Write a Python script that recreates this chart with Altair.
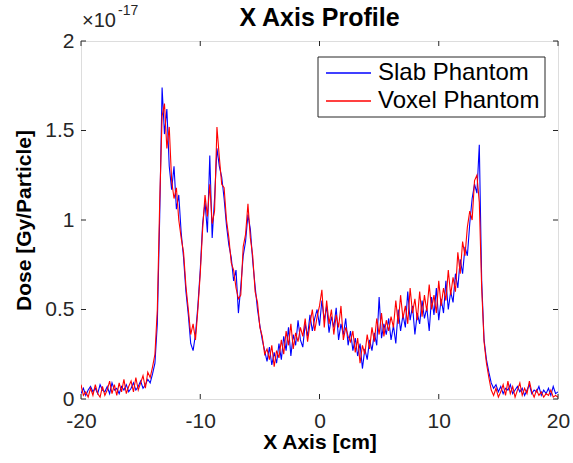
import altair as alt
import numpy as np
import pandas as pd

# Depth positions along the X axis (cm), 0.2 cm bins
x_cm = np.round(np.linspace(-20, 20, 201), 1)

# Dose per particle in units of 1e-17 Gy, one row of ten bins per line
slab_dose = [
    0.03, 0.06, 0.02, 0.05, 0.07, 0.04, 0.06, 0.03, 0.08, 0.05,   # -20.0
    0.04, 0.07, 0.03, 0.09, 0.05, 0.06, 0.03, 0.07, 0.05, 0.08,   # -18.0
    0.04, 0.06, 0.09, 0.05, 0.07, 0.10, 0.06, 0.08, 0.11, 0.09,   # -16.0
    0.14, 0.20, 0.42, 1.02, 1.74, 1.48, 1.62, 1.30, 1.17, 1.30,   # -14.0
    1.06, 1.14, 0.93, 0.79, 0.60, 0.47, 0.31, 0.27, 0.36, 0.52,   # -12.0
    0.72, 0.98, 1.10, 0.93, 1.36, 0.90, 1.12, 1.40, 1.30, 1.24,   # -10.0
    1.12, 0.97, 0.86, 0.79, 0.66, 0.72, 0.48, 0.63, 0.80, 0.88,   # -8.0
    1.03, 0.95, 0.77, 0.63, 0.50, 0.41, 0.33, 0.27, 0.21, 0.29,   # -6.0
    0.19, 0.26, 0.20, 0.31, 0.22, 0.35, 0.27, 0.40, 0.24, 0.36,   # -4.0
    0.30, 0.44, 0.33, 0.29, 0.42, 0.35, 0.47, 0.38, 0.45, 0.50,   # -2.0
    0.41, 0.55, 0.44, 0.52, 0.37, 0.46, 0.40, 0.51, 0.33, 0.42,   # 0.0
    0.36, 0.45, 0.30, 0.38, 0.27, 0.34, 0.24, 0.31, 0.17, 0.28,   # 2.0
    0.22, 0.33, 0.27, 0.37, 0.30, 0.57, 0.34, 0.42, 0.36, 0.45,   # 4.0
    0.33, 0.41, 0.31, 0.50, 0.38, 0.47, 0.40, 0.60, 0.44, 0.52,   # 6.0
    0.36, 0.48, 0.42, 0.55, 0.45, 0.51, 0.38, 0.57, 0.47, 0.62,   # 8.0
    0.44, 0.56, 0.48, 0.66, 0.50, 0.60, 0.54, 0.70, 0.62, 0.78,   # 10.0
    0.70, 0.85, 0.80, 0.98, 1.12, 1.20, 1.15, 1.42, 0.66, 0.33,   # 12.0
    0.22, 0.15, 0.09, 0.06, 0.08, 0.04, 0.07, 0.03, 0.06, 0.05,   # 14.0
    0.08, 0.03, 0.05, 0.07, 0.04, 0.06, 0.02, 0.05, 0.08, 0.03,   # 16.0
    0.05, 0.04, 0.07, 0.02, 0.05, 0.03, 0.06, 0.02, 0.07, 0.03,   # 18.0
    0.04,                                                         # 20.0
]

voxel_dose = [
    0.08, 0.02, 0.04, 0.01, 0.06, 0.02, 0.08, 0.03, 0.01, 0.07,   # -20.0
    0.02, 0.05, 0.10, 0.03, 0.08, 0.02, 0.09, 0.04, 0.11, 0.03,   # -18.0
    0.07, 0.10, 0.04, 0.12, 0.05, 0.09, 0.13, 0.06, 0.15, 0.12,   # -16.0
    0.18, 0.25, 0.50, 1.10, 1.58, 1.65, 1.40, 1.52, 1.22, 1.12,   # -14.0
    1.18, 1.00, 0.90, 0.82, 0.63, 0.50, 0.36, 0.42, 0.33, 0.50,   # -12.0
    0.70, 0.95, 1.14, 1.02, 1.20, 0.98, 1.05, 1.52, 1.35, 1.20,   # -10.0
    1.18, 1.00, 0.90, 0.76, 0.72, 0.62, 0.56, 0.58, 0.85, 0.92,   # -8.0
    1.09, 0.90, 0.80, 0.60, 0.54, 0.40, 0.35, 0.25, 0.28, 0.22,   # -6.0
    0.30, 0.18, 0.27, 0.23, 0.33, 0.25, 0.38, 0.30, 0.42, 0.28,   # -4.0
    0.37, 0.32, 0.40, 0.35, 0.45, 0.32, 0.42, 0.50, 0.38, 0.46,   # -2.0
    0.52, 0.61, 0.40, 0.55, 0.42, 0.50, 0.36, 0.47, 0.40, 0.52,   # 0.0
    0.33, 0.40, 0.35, 0.32, 0.38, 0.26, 0.34, 0.20, 0.30, 0.25,   # 2.0
    0.36, 0.28, 0.40, 0.32, 0.45, 0.36, 0.48, 0.35, 0.44, 0.38,   # 4.0
    0.46, 0.40, 0.55, 0.42, 0.58, 0.45, 0.52, 0.42, 0.62, 0.48,   # 6.0
    0.56, 0.44, 0.60, 0.46, 0.58, 0.49, 0.64, 0.50, 0.58, 0.48,   # 8.0
    0.66, 0.52, 0.62, 0.55, 0.72, 0.58, 0.68, 0.60, 0.82, 0.70,   # 10.0
    0.88, 0.80, 0.96, 1.05, 1.00, 1.22, 1.25, 1.10, 0.62, 0.32,   # 12.0
    0.20, 0.12, 0.05, 0.02, 0.06, 0.01, 0.04, 0.08, 0.02, 0.10,   # 14.0
    0.03, 0.07, 0.01, 0.05, 0.09, 0.02, 0.06, 0.03, 0.10, 0.04,   # 16.0
    0.01, 0.05, 0.02, 0.04, 0.01, 0.03, 0.02, 0.05, 0.01, 0.02,   # 18.0
    0.01,                                                         # 20.0
]

series_names = ["Slab Phantom", "Voxel Phantom"]
series_colors = ["#0000ff", "#ff0000"]
x_ticks = [-20, -10, 0, 10, 20]
y_ticks = [0, 0.5, 1, 1.5, 2]

FONT = "Liberation Sans"
W, H = 477, 358
TICK = 5
AXIS_GREY = "#262626"

df = pd.concat([
    pd.DataFrame({"x": x_cm, "dose": slab_dose, "series": series_names[0]}),
    pd.DataFrame({"x": x_cm, "dose": voxel_dose, "series": series_names[1]}),
])

x_scale = alt.Scale(domain=[-20, 20], nice=False, zero=False)
y_scale = alt.Scale(domain=[0, 2], nice=False)

x_axis = alt.Axis(
    values=x_ticks, labelExpr="'' + datum.value", ticks=False, domain=False,
    grid=False, labelFlush=False, labelOverlap=False,
    labelFontSize=21, labelColor=AXIS_GREY, labelFont=FONT, labelPadding=11,
    title="X Axis [cm]", titleFontSize=21, titleFontWeight="bold",
    titleColor="black", titleFont=FONT, titlePadding=0,
)
y_axis = alt.Axis(
    values=y_ticks, format="~g", ticks=False, domain=False, grid=False,
    labelFlush=False, labelOverlap=False,
    labelFontSize=21, labelColor=AXIS_GREY, labelFont=FONT, labelPadding=7,
    title="Dose [Gy/Particle]", titleFontSize=21, titleFontWeight="bold",
    titleColor="black", titleFont=FONT, titlePadding=10,
)
color = alt.Color(
    "series:N",
    scale=alt.Scale(domain=series_names, range=series_colors),
    legend=None,
)

base = alt.Chart(df)

def profile(name, with_axes):
    enc_x = alt.X("x:Q", scale=x_scale, axis=x_axis) if with_axes else alt.X("x:Q", scale=x_scale)
    enc_y = alt.Y("dose:Q", scale=y_scale, axis=y_axis) if with_axes else alt.Y("dose:Q", scale=y_scale)
    return base.transform_filter(alt.datum.series == name).mark_line(
        strokeWidth=1.1, clip=True
    ).encode(x=enc_x, y=enc_y, color=color)

# Inward tick marks on all four sides of the box
xt = alt.Chart(pd.DataFrame({"x": x_ticks}))
yt = alt.Chart(pd.DataFrame({"dose": y_ticks}))
tick_style = dict(color=AXIS_GREY, strokeWidth=1)
x_bottom = xt.mark_rule(**tick_style).encode(
    x=alt.X("x:Q", scale=x_scale), y=alt.value(H), y2=alt.value(H - TICK))
x_top = xt.mark_rule(**tick_style).encode(
    x=alt.X("x:Q", scale=x_scale), y=alt.value(0), y2=alt.value(TICK))
y_left = yt.mark_rule(**tick_style).encode(
    y=alt.Y("dose:Q", scale=y_scale), x=alt.value(0), x2=alt.value(TICK))
y_right = yt.mark_rule(**tick_style).encode(
    y=alt.Y("dose:Q", scale=y_scale), x=alt.value(W), x2=alt.value(W - TICK))

# Chart title and axis exponent drawn above the box
one = pd.DataFrame({"s": [""]})
title_text = alt.Chart(one).mark_text(
    align="center", baseline="middle", fontSize=25, fontWeight="bold",
    font=FONT, color="black", text="X Axis Profile"
).encode(x=alt.value(W / 2), y=alt.value(-23))
exp_base = alt.Chart(one).mark_text(
    align="left", baseline="middle", fontSize=20, font=FONT, color=AXIS_GREY,
    text="\u00d710"
).encode(x=alt.value(1), y=alt.value(-20))
exp_power = alt.Chart(one).mark_text(
    align="left", baseline="middle", fontSize=14, font=FONT, color=AXIS_GREY,
    text="-17"
).encode(x=alt.value(37), y=alt.value(-30))

# Boxed legend in the upper right of the axes
LX0, LX1, LY0, LY1 = 237, 464, 16, 76
legend_box = alt.Chart(one).mark_rect(
    fill="white", stroke=AXIS_GREY, strokeWidth=1
).encode(x=alt.value(LX0), x2=alt.value(LX1), y=alt.value(LY0), y2=alt.value(LY1))
legend_layers = [legend_box]
for i, (name, col) in enumerate(zip(series_names, series_colors)):
    row_y = 32 + 28 * i
    legend_layers.append(alt.Chart(one).mark_rule(color=col, strokeWidth=1.3).encode(
        x=alt.value(245), x2=alt.value(290), y=alt.value(row_y)))
    legend_layers.append(alt.Chart(one).mark_text(
        align="left", baseline="middle", fontSize=24, font=FONT, color="black", text=name
    ).encode(x=alt.value(297), y=alt.value(row_y)))

chart = alt.layer(
    profile(series_names[0], True), profile(series_names[1], False),
    x_bottom, x_top, y_left, y_right, title_text, exp_base, exp_power,
    *legend_layers,
).properties(
    width=W, height=H,
    autosize=alt.AutoSizeParams(type="none"),
    padding={"left": 81, "top": 41, "right": 15, "bottom": 64},
).configure_view(
    stroke=AXIS_GREY, strokeWidth=1
).configure(background="white")

chart.save("out.html", embed_options={"renderer": "svg", "actions": False})
